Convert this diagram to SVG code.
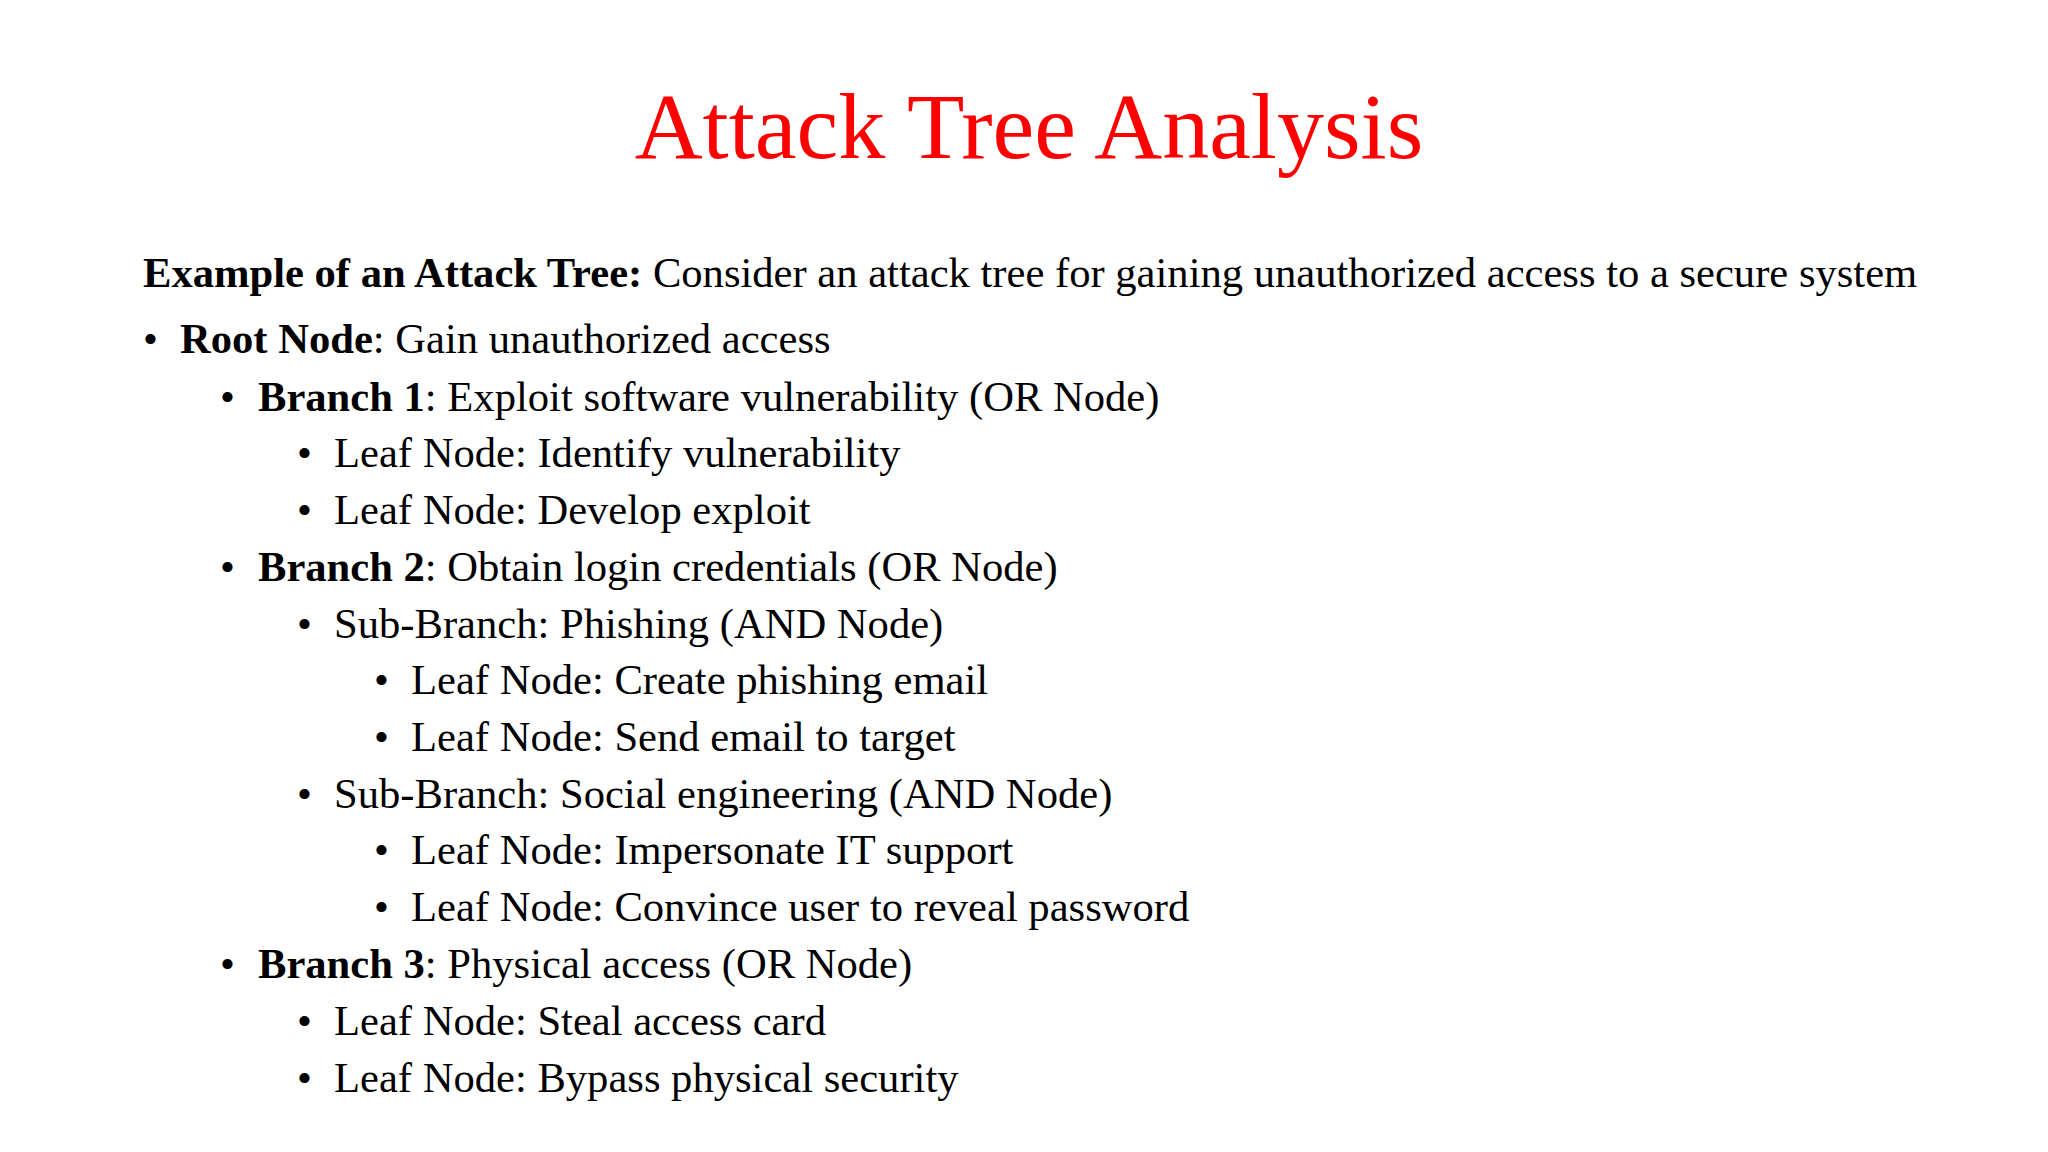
<svg xmlns="http://www.w3.org/2000/svg" width="2048" height="1152" viewBox="0 0 2048 1152">
<style>
text{font-family:"Liberation Serif","Times New Roman",serif;font-size:42.6px;fill:#000}
.t{font-size:94px;fill:#ff0000}
.b{font-weight:bold}
</style>
<rect width="2048" height="1152" fill="#fff"/>
<g id="title"><text class="t" x="1029" y="158" text-anchor="middle">Attack Tree Analysis</text></g>
<g id="intro"><text x="143" y="287"><tspan class="b">Example of an Attack Tree:</tspan> Consider an attack tree for gaining unauthorized access to a secure system</text></g>
<g id="list">
<text x="143" y="353">•</text><text x="180" y="353"><tspan class="b">Root Node</tspan>: Gain unauthorized access</text>
<text x="220" y="411">•</text><text x="258" y="411"><tspan class="b">Branch 1</tspan>: Exploit software vulnerability (OR Node)</text>
<text x="297" y="467">•</text><text x="334" y="467">Leaf Node: Identify vulnerability</text>
<text x="297" y="524">•</text><text x="334" y="524">Leaf Node: Develop exploit</text>
<text x="220" y="581">•</text><text x="258" y="581"><tspan class="b">Branch 2</tspan>: Obtain login credentials (OR Node)</text>
<text x="297" y="638">•</text><text x="334" y="638">Sub-Branch: Phishing (AND Node)</text>
<text x="374" y="694">•</text><text x="411" y="694">Leaf Node: Create phishing email</text>
<text x="374" y="751">•</text><text x="411" y="751">Leaf Node: Send email to target</text>
<text x="297" y="808">•</text><text x="334" y="808">Sub-Branch: Social engineering (AND Node)</text>
<text x="374" y="864">•</text><text x="411" y="864">Leaf Node: Impersonate IT support</text>
<text x="374" y="921">•</text><text x="411" y="921">Leaf Node: Convince user to reveal password</text>
<text x="220" y="978">•</text><text x="258" y="978"><tspan class="b">Branch 3</tspan>: Physical access (OR Node)</text>
<text x="297" y="1035">•</text><text x="334" y="1035">Leaf Node: Steal access card</text>
<text x="297" y="1092">•</text><text x="334" y="1092">Leaf Node: Bypass physical security</text>
</g>
</svg>
